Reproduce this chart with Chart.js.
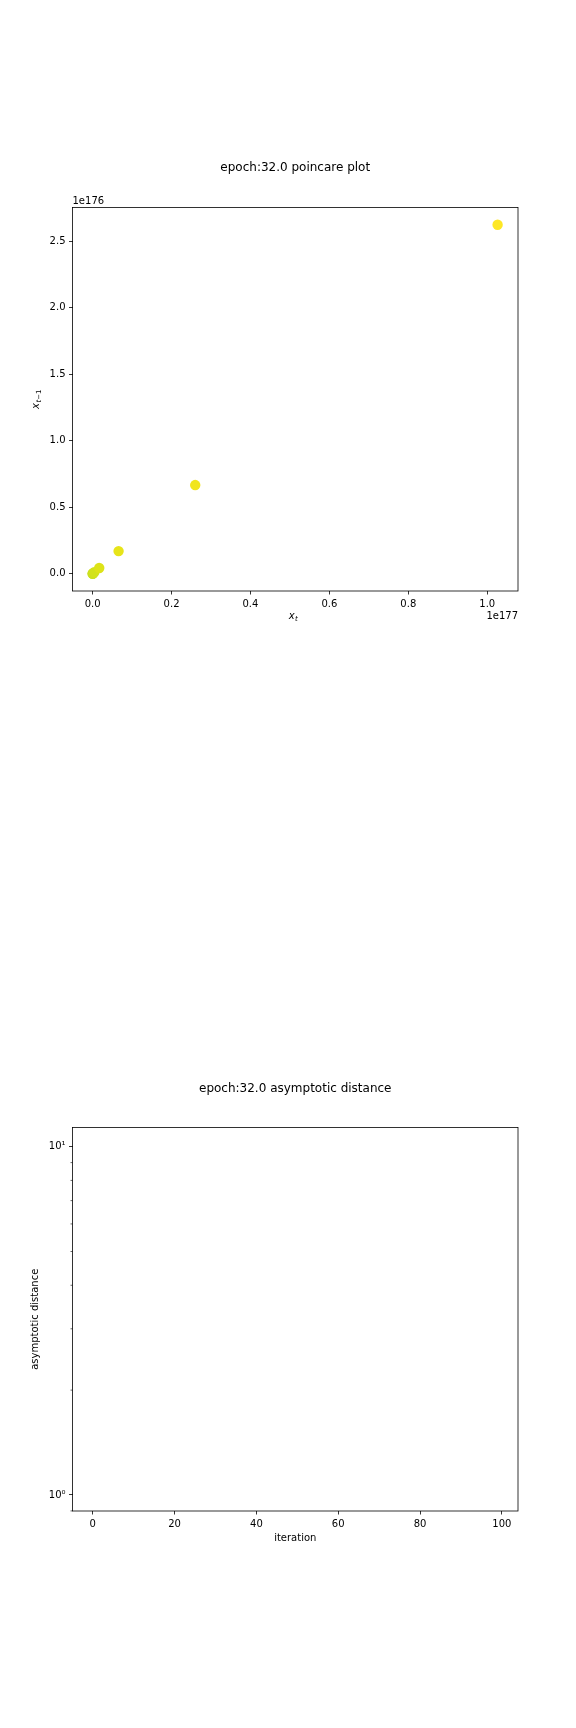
<!DOCTYPE html>
<html><head><meta charset="utf-8">
<script src="https://cdn.jsdelivr.net/npm/chart.js@4"></script>
<style>
html,body{margin:0;padding:0;background:#fff;}
#wrap{position:relative;width:576px;height:1728px;background:#fff;}
canvas{position:absolute;left:0;}
</style></head><body>
<div id="wrap">
<canvas id="c1" width="576" height="864" style="top:0;width:576px;height:864px"></canvas>
<canvas id="c2" width="576" height="864" style="top:864px;width:576px;height:864px"></canvas>
</div>
<script>
// ---- data ----
const poincareXt  = [0, 0.00028e177, 0.00107e177, 0.0042e177, 0.0167e177, 0.0658e177, 0.2600e177, 1.0263e177];
const poincareXt1 = [0, 0.0007e176, 0.0027e176, 0.0108e176, 0.0430e176, 0.1700e176, 0.6670e176, 2.6250e176];
const pointColors = ['#c2df23', '#c8e020', '#cde11d', '#d2e21b', '#dde318', '#e7e419', '#f1e51d', '#fde725'];
const poincareXTicks = [0, 0.2e177, 0.4e177, 0.6e177, 0.8e177, 1.0e177];
const poincareYTicks = [0, 0.5e176, 1.0e176, 1.5e176, 2.0e176, 2.5e176];
const asymptoticDistance = [];
const iterTicks = [0, 20, 40, 60, 80, 100];
const distMajorTicks = [1, 10];
const distMinorTicks = [0.9, 2, 3, 4, 5, 6, 7, 8, 9];

const FONT = '"DejaVu Sans", sans-serif';
Chart.defaults.font.family = FONT;
Chart.defaults.color = '#000';

function drawFrame(chart) {
  const {ctx, chartArea: a} = chart;
  ctx.save();
  ctx.strokeStyle = '#000';
  ctx.lineWidth = 0.8;
  ctx.strokeRect(a.left, a.top, a.right - a.left, a.bottom - a.top);
  ctx.restore();
}

// base (italic) + subscript segments; centered at cx, baseline at by
function drawSubLabel(ctx, base, subs, cx, by, rotate) {
  ctx.save();
  ctx.fillStyle = '#000';
  ctx.textBaseline = 'alphabetic';
  ctx.textAlign = 'left';
  const baseFont = 'italic 10px ' + FONT;
  const subFontI = 'italic 7px ' + FONT;
  const subFontR = '7px ' + FONT;
  ctx.font = baseFont;
  const bw = ctx.measureText(base).width;
  let sw = 0;
  subs.forEach(s => { ctx.font = s.i ? subFontI : subFontR; sw += ctx.measureText(s.t).width; });
  const total = bw + sw + 0.5;
  ctx.translate(cx, by);
  if (rotate) ctx.rotate(-Math.PI / 2);
  let x = -total / 2;
  ctx.font = baseFont;
  ctx.fillText(base, x, 0);
  x += bw + 0.5;
  subs.forEach(s => {
    ctx.font = s.i ? subFontI : subFontR;
    ctx.fillText(s.t, x, 2.2);
    x += ctx.measureText(s.t).width;
  });
  ctx.restore();
}

function fixedTicks(arr) {
  return (scale) => { scale.ticks = arr.map(v => ({value: v})); };
}

const tickFont = {family: FONT, size: 10};
const gridOpts = {display: true, drawOnChartArea: false, drawTicks: true, tickLength: 3.5, tickColor: '#000', tickWidth: 0.8};

// ---- chart 1: poincare ----
new Chart(document.getElementById('c1'), {
  type: 'scatter',
  data: {
    datasets: [{
      data: poincareXt.map((x, i) => ({x: x, y: poincareXt1[i]})),
      pointRadius: 5.2,
      pointBackgroundColor: pointColors,
      pointBorderColor: pointColors,
      pointBorderWidth: 0,
      showLine: false
    }]
  },
  options: {
    responsive: false, animation: false, devicePixelRatio: 1,
    layout: {padding: {left: 0, right: 58, top: 0, bottom: 233}},
    plugins: {
      legend: {display: false}, tooltip: {enabled: false},
      title: {display: true, text: 'epoch:32.0 poincare plot', fullSize: false,
        font: {family: FONT, size: 12, weight: 'normal', lineHeight: 1.2}, color: '#000',
        padding: {top: 160.8, bottom: 32.3}}
    },
    scales: {
      x: {
        type: 'linear', min: -0.051e177, max: 1.078e177,
        afterBuildTicks: fixedTicks(poincareXTicks),
        afterFit: (s) => { s.height = 40; },
        ticks: {font: tickFont, color: '#000', padding: 3.5, autoSkip: false, maxRotation: 0,
          callback: (v) => (v / 1e177).toFixed(1)},
        grid: gridOpts, border: {display: false}
      },
      y: {
        type: 'linear', min: -0.130e176, max: 2.755e176,
        afterBuildTicks: fixedTicks(poincareYTicks),
        afterFit: (s) => { s.width = 72.5; },
        ticks: {font: tickFont, color: '#000', padding: 3.5, autoSkip: false,
          callback: (v) => (v / 1e176).toFixed(1)},
        grid: gridOpts, border: {display: false}
      }
    }
  },
  plugins: [{
    id: 'extras1',
    afterDraw(chart) {
      drawFrame(chart);
      const {ctx, chartArea: a} = chart;
      ctx.save();
      ctx.fillStyle = '#000';
      ctx.font = '10px ' + FONT;
      ctx.textBaseline = 'alphabetic';
      ctx.textAlign = 'left';
      ctx.fillText('1e176', a.left, a.top - 3.5);
      ctx.textAlign = 'right';
      ctx.fillText('1e177', a.right, 619);
      ctx.restore();
      drawSubLabel(ctx, 'x', [{t: 't', i: true}], (a.left + a.right) / 2 - 2, 619, false);
      drawSubLabel(ctx, 'x', [{t: 't', i: true}, {t: '\u22121', i: false}], 38.5, (a.top + a.bottom) / 2, true);
    }
  }]
});

// ---- chart 2: asymptotic distance ----
const sup = {'0': '\u2070', '1': '\u00b9', '2': '\u00b2', '3': '\u00b3', '-': '\u207b'};
new Chart(document.getElementById('c2'), {
  type: 'line',
  data: {
    datasets: [{
      data: asymptoticDistance,
      borderColor: '#1f77b4', borderWidth: 1.5, pointRadius: 0, fill: false
    }]
  },
  options: {
    responsive: false, animation: false, devicePixelRatio: 1,
    layout: {padding: {left: 0, right: 58, top: 0, bottom: 177}},
    plugins: {
      legend: {display: false}, tooltip: {enabled: false},
      title: {display: true, text: 'epoch:32.0 asymptotic distance', fullSize: false,
        font: {family: FONT, size: 12, weight: 'normal', lineHeight: 1.2}, color: '#000',
        padding: {top: 217.8, bottom: 31.3}}
    },
    scales: {
      x: {
        type: 'linear', min: -4.95, max: 103.95,
        afterBuildTicks: fixedTicks(iterTicks),
        afterFit: (s) => { s.height = 40; },
        ticks: {font: tickFont, color: '#000', padding: 3.5, autoSkip: false, maxRotation: 0,
          callback: (v) => String(v)},
        grid: gridOpts, border: {display: false}
      },
      y: {
        type: 'logarithmic', min: 0.8995, max: 11.35,
        afterBuildTicks: fixedTicks(distMajorTicks),
        afterFit: (s) => { s.width = 72.5; },
        ticks: {font: tickFont, color: '#000', padding: 3.5, autoSkip: false,
          callback: (v) => '10' + String(Math.round(Math.log10(v))).split('').map(c => sup[c]).join('')},
        grid: gridOpts, border: {display: false}
      }
    }
  },
  plugins: [{
    id: 'extras2',
    afterDraw(chart) {
      drawFrame(chart);
      const {ctx, chartArea: a} = chart;
      const ys = chart.scales.y;
      ctx.save();
      ctx.strokeStyle = '#000';
      ctx.lineWidth = 0.6;
      distMinorTicks.forEach(v => {
        const py = ys.getPixelForValue(v);
        if (py >= a.top - 0.5 && py <= a.bottom + 0.5) {
          ctx.beginPath();
          ctx.moveTo(a.left, py);
          ctx.lineTo(a.left - 2, py);
          ctx.stroke();
        }
      });
      ctx.fillStyle = '#000';
      ctx.font = '10px ' + FONT;
      ctx.textAlign = 'center';
      ctx.textBaseline = 'alphabetic';
      ctx.fillText('iteration', (a.left + a.right) / 2, 677);
      ctx.translate(38.3, (a.top + a.bottom) / 2);
      ctx.rotate(-Math.PI / 2);
      ctx.fillText('asymptotic distance', 0, 0);
      ctx.restore();
    }
  }]
});
</script>
</body></html>
